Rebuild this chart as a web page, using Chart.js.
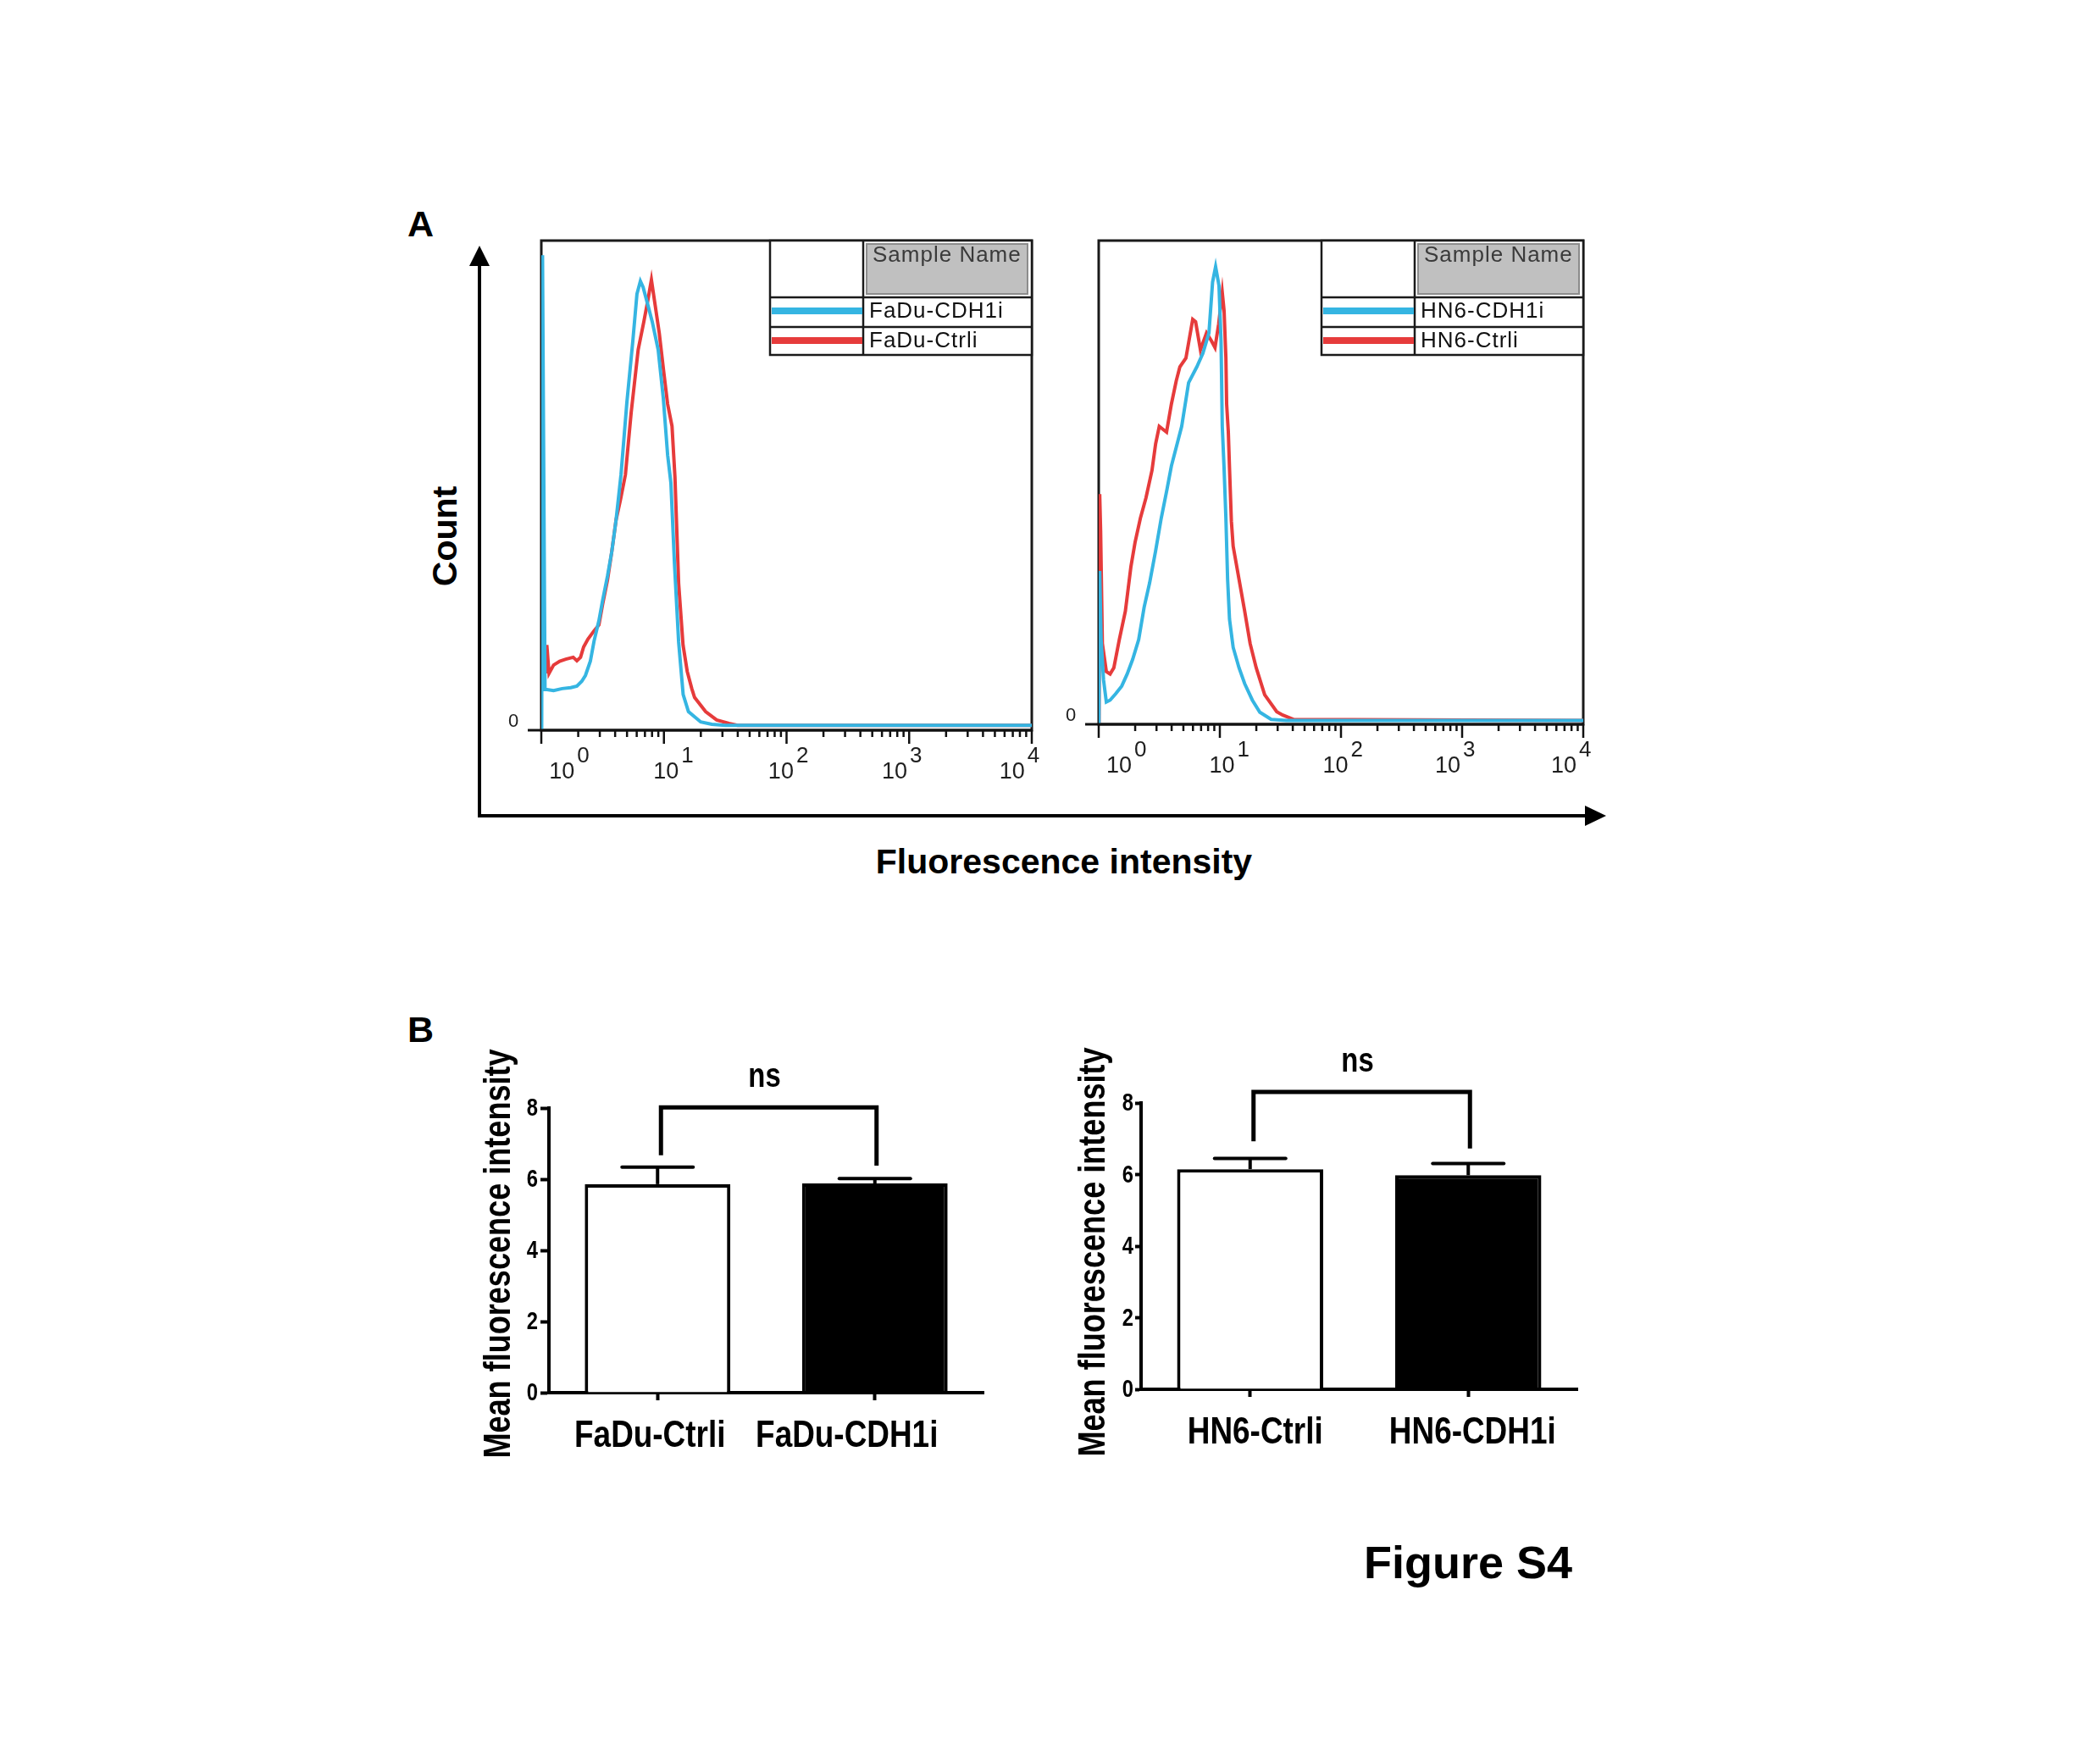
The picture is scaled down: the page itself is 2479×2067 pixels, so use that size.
<!DOCTYPE html>
<html>
<head>
<meta charset="utf-8">
<title>Figure S4</title>
<script src="https://cdn.jsdelivr.net/npm/chart.js@4.4.1/dist/chart.umd.min.js"></script>
<style>
  html, body { margin:0; padding:0; background:#fff; }
  #page { position:relative; width:2479px; height:2067px; background:#fff; overflow:hidden; }
  #page canvas, #page svg { position:absolute; }
  .t { font-family:'Liberation Sans', Arial, sans-serif; font-weight:bold; fill:#000; }
</style>
</head>
<body>
<div id="page">
  <svg width="2479" height="2067" style="left:0;top:0">
    <text class="t" x="481" y="279" font-size="43">A</text>
    <text class="t" x="481" y="1230" font-size="43">B</text>
    <text class="t" font-size="41" text-anchor="middle" transform="translate(539,633) rotate(-90)">Count</text>
    <text class="t" x="1256" y="1031" font-size="41" text-anchor="middle">Fluorescence intensity</text>
    <text class="t" x="1610" y="1863" font-size="54">Figure S4</text>
    <line x1="566" y1="965" x2="566" y2="312" stroke="#000" stroke-width="4"/>
    <polygon points="554,314 566,290 578,314" fill="#000"/>
    <line x1="564" y1="963" x2="1873" y2="963" stroke="#000" stroke-width="4"/>
    <polygon points="1871,951 1896,963 1871,975" fill="#000"/>
  </svg>
  <canvas id="histFadu" width="690" height="700" style="left:560px;top:270px"></canvas>
  <canvas id="histHn6" width="670" height="700" style="left:1250px;top:270px"></canvas>
  <canvas id="barFadu" width="620" height="520" style="left:560px;top:1230px"></canvas>
  <canvas id="barHn6" width="620" height="520" style="left:1260px;top:1230px"></canvas>
</div>
<script>
// ---------------- DATA ----------------
// Panel A: flow cytometry histograms (x = fluorescence intensity, y = % of max count)
const faduCdh1iX = [1.007,1.023,1.072,1.112,1.259,1.479,1.738,1.950,2.138,2.291,2.512,2.692,2.951,3.162,3.467,3.758,4.074,4.467,4.989,5.572,6.026,6.427,6.761,7.194,8.035,8.974,9.886,10.72,11.40,12.19,13.18,14.35,15.85,19.95,24.55,31.62,10000];
const faduCdh1iY = [0,97,8.3,8.3,8.1,8.5,8.7,9.0,10,11.2,14.1,18.2,22.4,26.5,31.5,36.5,43,52.2,67,79.4,89.1,91.7,90.5,88,83.4,77.7,67.8,56.2,50.5,34,18,7.3,3.8,1.7,1.2,1.0,1.0];
const faduCtrliX = [1.084,1.109,1.156,1.259,1.413,1.585,1.820,1.950,2.089,2.213,2.399,2.692,2.951,3.162,3.467,3.758,4.074,4.416,4.853,5.408,6.166,6.855,7.345,7.907,8.472,9.162,9.931,10.72,11.64,12.30,13.18,14.32,15.49,16.87,17.78,21.88,26.92,33.88,39.81,10000];
const faduCtrliY = [11.6,17.4,11.6,13.3,14.1,14.5,14.9,14.2,14.9,17,18.6,20.3,21.5,25.7,30.7,36.5,43,47,52.2,64.9,77.7,83.4,87.4,92,86.9,81.1,73.5,66.6,62.1,51.7,30,17.4,12,8.5,6.7,3.8,2.1,1.4,1.0,1.0];
const hn6Cdh1iX = [1.005,1.019,1.047,1.096,1.156,1.242,1.380,1.549,1.718,1.905,2.138,2.371,2.630,2.951,3.281,3.656,3.981,4.842,5.521,6.457,7.244,8.128,8.710,9.226,9.840,10.23,10.47,10.84,11.22,11.59,12.02,12.88,14.39,16.03,18.54,21.38,26.55,35.48,10000];
const hn6Cdh1iY = [0,31.7,17.5,9.2,4.6,5,6.3,7.9,10.4,13.4,17.5,24.2,29.2,35.9,42.6,48.5,53.4,61.6,70.6,73.9,76.7,80.9,91.4,94.6,90.7,79.2,61.6,52.9,42.6,30,21.7,15.9,11.7,8.4,5,2.5,1,0.8,0.8];
const hn6CtrliX = [1.005,1.019,1.037,1.072,1.156,1.242,1.334,1.479,1.660,1.845,1.995,2.208,2.455,2.754,2.951,3.162,3.388,3.631,3.981,4.365,4.677,5.248,5.970,6.310,6.918,7.762,8.511,9.120,9.772,10.47,10.84,11.22,11.38,11.75,12.02,12.45,12.88,14.39,16.03,17.78,19.95,23.44,29.51,33.11,40.74,10000];
const hn6CtrliY = [0,47.6,40,16.7,10.9,10.4,11.7,17.5,23.4,32.6,37.6,42.6,46.8,52.5,58,61.6,61.0,60.4,66.2,71,73.9,75.7,83.7,83.2,77.4,80.9,79.3,77.9,82.7,89.3,85.5,75.7,66.2,60.4,52.9,42,36.8,30,23.4,16.7,11.7,6.1,2.6,1.9,1.0,0.8];
const faduSeriesNames = ['FaDu-CDH1i', 'FaDu-Ctrli'];
const hn6SeriesNames = ['HN6-CDH1i', 'HN6-Ctrli'];
const decadeLabelAt = [1.47, 10.4, 90, 760, 6900];
const decadeExponent = ['0', '1', '2', '3', '4'];

// Panel B: mean fluorescence intensity bars (mean, SEM)
const faduCategories = ['FaDu-Ctrli', 'FaDu-CDH1i'];
const faduMean = [5.86, 5.88];
const faduSem = [0.48, 0.14];
const hn6Categories = ['HN6-Ctrli', 'HN6-CDH1i'];
const hn6Mean = [6.15, 5.98];
const hn6Sem = [0.30, 0.33];
const faduBracket = [8.02, 6.67, 6.38];   // bracket level, left leg end, right leg end
const hn6Bracket = [8.31, 6.93, 6.73];
const yTickStep = 2;
const yAxisTitle = 'Mean fluorescence intensity';
const significanceLabel = 'ns';

// ---------------- STYLE ----------------
const BLUE = '#35b5e2';
const RED = '#e63b3b';
const SANS = "'Liberation Sans', Arial, sans-serif";
const NARROW_FACTOR = 0.82;
Chart.defaults.animation = false;
Chart.defaults.font.family = SANS;
Chart.defaults.color = '#000';

function toPoints(xs, ys) { return xs.map((x, i) => ({ x: x, y: ys[i] })); }
function line(ctx, x1, y1, x2, y2) { ctx.beginPath(); ctx.moveTo(x1, y1); ctx.lineTo(x2, y2); ctx.stroke(); }
// bold text horizontally condensed (Arial Narrow look)
function narrowText(ctx, text, x, y, size) {
  ctx.font = 'bold ' + size + 'px ' + SANS;
  const w = ctx.measureText(text).width;
  ctx.fillText(text, x, y, w * NARROW_FACTOR);
}

const histFrame = {
  id: 'histFrame',
  beforeDatasetsDraw(chart) {
    const { ctx, chartArea: a } = chart;
    ctx.save();
    ctx.strokeStyle = '#1a1a1a';
    ctx.lineWidth = 3;
    ctx.strokeRect(a.left, a.top, a.right - a.left, a.bottom - a.top);
    ctx.restore();
  },
  afterDatasetsDraw(chart) {
    const { ctx, chartArea: a, scales: { x } } = chart;
    ctx.save();
    ctx.strokeStyle = '#111';
    ctx.lineWidth = 3;
    line(ctx, a.left - 16, a.bottom, a.right + 1, a.bottom);
    ctx.lineWidth = 2.5;
    for (let k = 0; k < 4; k++) {
      for (let m = 1; m < 10; m++) {
        const px = x.getPixelForValue(m * Math.pow(10, k));
        line(ctx, px, a.bottom, px, a.bottom + (m === 1 ? 16 : 8));
      }
    }
    const pxEnd = x.getPixelForValue(10000);
    line(ctx, pxEnd, a.bottom, pxEnd, a.bottom + 16);
    ctx.fillStyle = '#1e1e1e';
    ctx.textBaseline = 'alphabetic';
    decadeLabelAt.forEach((v, i) => {
      const px = x.getPixelForValue(v);
      ctx.font = '27px ' + SANS;
      ctx.textAlign = 'center';
      ctx.fillText('10', px, a.bottom + 57);
      const w = ctx.measureText('10').width;
      ctx.font = '26px ' + SANS;
      ctx.textAlign = 'left';
      ctx.fillText(decadeExponent[i], px + w / 2 + 3, a.bottom + 38);
    });
    ctx.font = '22px ' + SANS;
    ctx.textAlign = 'center';
    ctx.textBaseline = 'middle';
    ctx.fillText('0', a.left - 33, a.bottom - 10);
    // legend table
    const L = a.right - 309, R = a.right, T = a.top;
    const div = L + 110, r1 = T + 67, r2 = T + 102, B = T + 135;
    ctx.fillStyle = '#fff';
    ctx.fillRect(L, T, R - L, B - T);
    ctx.fillStyle = '#c0c0c0';
    ctx.fillRect(div + 3, T + 3, R - div - 7, r1 - T - 6);
    ctx.strokeStyle = '#8c8c8c';
    ctx.lineWidth = 2;
    ctx.strokeRect(div + 4, T + 4, R - div - 9, r1 - T - 8);
    ctx.strokeStyle = '#1a1a1a';
    ctx.lineWidth = 2.5;
    ctx.strokeRect(L, T, R - L, B - T);
    line(ctx, div, T, div, B);
    line(ctx, L, r1, R, r1);
    line(ctx, L, r2, R, r2);
    ctx.textAlign = 'left';
    ctx.textBaseline = 'alphabetic';
    ctx.font = '26px ' + SANS;
    try { ctx.letterSpacing = '1px'; } catch (e) {}
    ctx.fillStyle = '#3a3a3a';
    ctx.fillText('Sample Name', div + 11, T + 25);
    chart.data.datasets.forEach((ds, i) => {
      const rt = i === 0 ? r1 : r2;
      ctx.strokeStyle = ds.borderColor;
      ctx.lineWidth = 8;
      line(ctx, L + 2, rt + 16, div - 1, rt + 16);
      ctx.fillStyle = '#111';
      ctx.fillText(ds.label, div + 7, rt + 24);
    });
    ctx.restore();
  }
};

function histChart(id, pad, names, series) {
  return new Chart(document.getElementById(id), {
    type: 'line',
    data: {
      datasets: [
        { label: names[0], data: toPoints(series[0], series[1]), borderColor: BLUE, borderWidth: 4, pointRadius: 0, tension: 0, fill: false },
        { label: names[1], data: toPoints(series[2], series[3]), borderColor: RED, borderWidth: 4, pointRadius: 0, tension: 0, fill: false }
      ]
    },
    options: {
      responsive: false, animation: false, devicePixelRatio: 1,
      layout: { padding: pad },
      scales: {
        x: { type: 'logarithmic', min: 1, max: 10000, display: false },
        y: { type: 'linear', min: 0, max: 100, display: false }
      },
      plugins: { legend: { display: false }, tooltip: { enabled: false } }
    },
    plugins: [histFrame]
  });
}

histChart('histFadu', { left: 79, right: 32, top: 14, bottom: 108 }, faduSeriesNames,
  [faduCdh1iX, faduCdh1iY, faduCtrliX, faduCtrliY]);
histChart('histHn6', { left: 47, right: 51, top: 14, bottom: 115 }, hn6SeriesNames,
  [hn6Cdh1iX, hn6Cdh1iY, hn6CtrliX, hn6CtrliY]);

const barExtras = {
  id: 'barExtras',
  afterDatasetsDraw(chart, args, o) {
    const { ctx, chartArea: a, scales: { x, y } } = chart;
    const meta = chart.getDatasetMeta(0);
    const vals = chart.data.datasets[0].data;
    ctx.save();
    // error bars (upper SEM)
    ctx.strokeStyle = '#000';
    ctx.lineWidth = 4;
    meta.data.forEach((bar, i) => {
      const yv = y.getPixelForValue(vals[i]);
      const yt = y.getPixelForValue(vals[i] + o.errors[i]);
      ctx.lineCap = 'butt';
      line(ctx, bar.x, yv, bar.x, yt);
      ctx.lineCap = 'round';
      line(ctx, bar.x - 42, yt, bar.x + 42, yt);
    });
    // significance bracket
    const b0 = meta.data[0], b1 = meta.data[1];
    const yb = y.getPixelForValue(o.bracket[0]);
    ctx.lineCap = 'butt';
    ctx.lineJoin = 'miter';
    ctx.lineWidth = 5;
    ctx.beginPath();
    ctx.moveTo(b0.x + 4, y.getPixelForValue(o.bracket[1]));
    ctx.lineTo(b0.x + 4, yb);
    ctx.lineTo(b1.x + 2, yb);
    ctx.lineTo(b1.x + 2, y.getPixelForValue(o.bracket[2]));
    ctx.stroke();
    ctx.fillStyle = '#000';
    ctx.textAlign = 'center';
    ctx.textBaseline = 'alphabetic';
    narrowText(ctx, significanceLabel, (b0.x + b1.x) / 2 - 2, yb - 24, 40);
    // y tick labels
    ctx.textAlign = 'right';
    ctx.textBaseline = 'middle';
    y.ticks.forEach(t => narrowText(ctx, String(t.value), a.left - o.tickGap, y.getPixelForValue(t.value) + 1, 29));
    // category labels
    ctx.textAlign = 'center';
    ctx.textBaseline = 'alphabetic';
    chart.data.labels.forEach((lab, i) => narrowText(ctx, lab, x.getPixelForValue(i) + o.labelShift[i], a.bottom + 64, 45));
    // y title
    ctx.translate(o.titleX, (a.top + a.bottom) / 2 + o.titleDy);
    ctx.rotate(-Math.PI / 2);
    ctx.textAlign = 'center';
    narrowText(ctx, yAxisTitle, 0, 0, 44);
    ctx.restore();
  }
};

function barChart(id, cats, means, sems, bracket, c) {
  return new Chart(document.getElementById(id), {
    type: 'bar',
    data: {
      labels: cats,
      datasets: [{
        data: means,
        backgroundColor: ['#ffffff', '#000000'],
        borderColor: '#000', borderWidth: 4, borderSkipped: 'bottom',
        barPercentage: 0.67, categoryPercentage: 1
      }]
    },
    options: {
      responsive: false, animation: false, devicePixelRatio: 1,
      layout: { padding: { left: 0, top: c.top, right: c.right, bottom: 0 } },
      scales: {
        x: {
          grid: { display: true, drawOnChartArea: false, offset: false, tickLength: 9, tickWidth: 4, tickColor: '#000', color: '#000' },
          border: { display: true, color: '#000', width: 4 },
          ticks: { display: false, autoSkip: false },
          afterFit: s => { s.height = c.xh; }
        },
        y: {
          min: 0, max: 8,
          ticks: { display: false, stepSize: yTickStep },
          grid: { drawOnChartArea: false, tickLength: c.tl, tickWidth: 4, tickColor: '#000', color: '#000' },
          border: { display: true, color: '#000', width: 4 },
          afterFit: s => { s.width = c.yw; }
        }
      },
      plugins: {
        legend: { display: false }, tooltip: { enabled: false },
        barExtras: { errors: sems, bracket: bracket, tickGap: c.tickGap, labelShift: c.labelShift, titleX: c.titleX, titleDy: c.titleDy }
      }
    },
    plugins: [barExtras]
  });
}

barChart('barFadu', faduCategories, faduMean, faduSem, faduBracket,
  { top: 78, right: 19, xh: 106, yw: 88, tl: 10, tickGap: 13, labelShift: [-9, -33], titleX: 42, titleDy: 4 });
barChart('barHn6', hn6Categories, hn6Mean, hn6Sem, hn6Bracket,
  { top: 72, right: 18, xh: 110, yw: 87, tl: 7, tickGap: 9, labelShift: [6, 5], titleX: 44, titleDy: 7 });
</script>
</body>
</html>
